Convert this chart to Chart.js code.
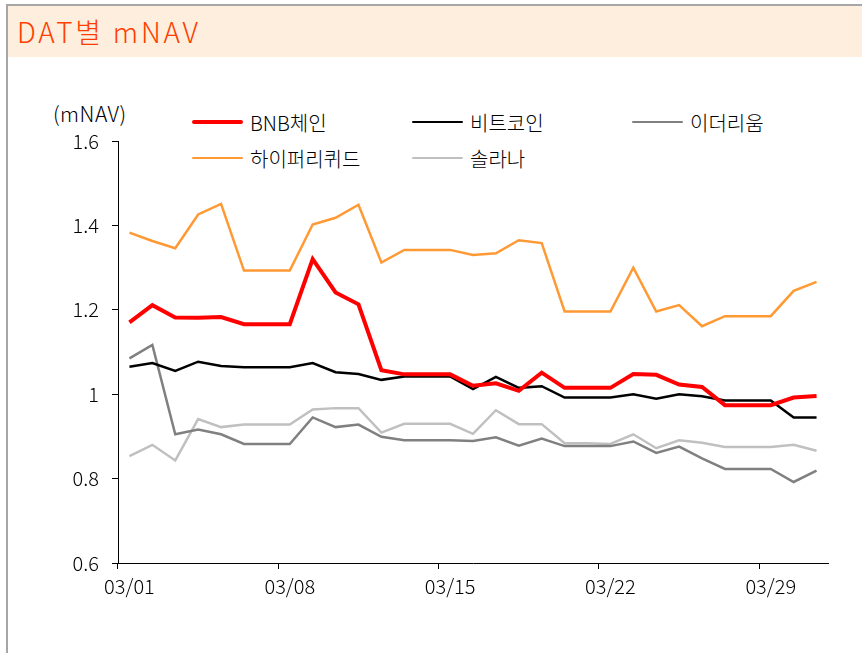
<!DOCTYPE html>
<html>
<head>
<meta charset="utf-8">
<script src="https://cdn.jsdelivr.net/npm/chart.js@4.4.1/dist/chart.umd.min.js"></script>
<style>
  body { margin: 0; width: 862px; height: 653px; overflow: hidden; background: #fff;
         font-family: "Noto Sans CJK KR", "Noto Sans", sans-serif; font-weight: 300; }
  #frame { position: absolute; left: 6px; top: 4px; right: 0; bottom: 0;
           border-left: 2px solid #a6a6a6; border-top: 2px solid #a6a6a6; }
  #band { position: absolute; left: 8px; top: 6px; right: 0; height: 51px; background: #fdeede; }
  #title { position: absolute; left: 17px; top: 14px; font-size: 28px; line-height: 34px;
           color: #ff3d00; letter-spacing: 2.8px; }
  #unit { position: absolute; left: 53px; top: 99px; font-size: 21px; line-height: 28px;
          color: #000; letter-spacing: 0.5px; }
  #legend { position: absolute; left: 192px; top: 108px; display: grid;
            grid-template-columns: 220px 220px 220px; row-gap: 8px; }
  .item { display: flex; align-items: center; height: 28px; font-size: 20px; color: #000; }
  .swatch { width: 51px; margin-right: 7px; border-radius: 2px; }
  #wrap { position: absolute; left: 0; top: 0; width: 862px; height: 653px; }
</style>
</head>
<body>
<div id="frame"></div>
<div id="band"></div>
<div id="title">DAT별 mNAV</div>
<div id="unit">(mNAV)</div>
<div id="legend"></div>
<div id="wrap"><canvas id="chart" width="862" height="653"></canvas></div>
<script>
const dates = ['03/01','03/02','03/03','03/04','03/05','03/06','03/07','03/08','03/09','03/10',
               '03/11','03/12','03/13','03/14','03/15','03/16','03/17','03/18','03/19','03/20',
               '03/21','03/22','03/23','03/24','03/25','03/26','03/27','03/28','03/29','03/30','03/31'];

const bnb  = [1.170,1.211,1.182,1.181,1.183,1.166,1.166,1.166,1.320,1.241,1.213,1.057,1.047,1.047,1.047,1.020,
              1.026,1.008,1.051,1.015,1.015,1.015,1.048,1.046,1.023,1.017,0.974,0.974,0.974,0.992,0.996];
const btc  = [1.065,1.074,1.055,1.077,1.067,1.064,1.064,1.064,1.074,1.052,1.048,1.034,1.042,1.042,1.042,1.012,
              1.041,1.015,1.019,0.992,0.992,0.992,1.000,0.989,1.000,0.995,0.985,0.985,0.985,0.945,0.945];
const eth  = [1.085,1.117,0.905,0.916,0.905,0.882,0.882,0.882,0.945,0.922,0.928,0.899,0.891,0.891,0.891,0.889,
              0.898,0.878,0.895,0.877,0.877,0.877,0.888,0.861,0.876,0.848,0.823,0.823,0.823,0.792,0.819];
const hype = [1.383,1.363,1.346,1.426,1.451,1.293,1.293,1.293,1.402,1.418,1.449,1.312,1.342,1.342,1.342,1.330,
              1.334,1.365,1.358,1.196,1.196,1.196,1.300,1.196,1.211,1.161,1.185,1.185,1.185,1.245,1.266];
const sol  = [0.853,0.880,0.843,0.941,0.922,0.928,0.928,0.928,0.964,0.967,0.967,0.909,0.930,0.930,0.930,0.906,
              0.962,0.929,0.929,0.884,0.884,0.882,0.905,0.872,0.891,0.885,0.875,0.875,0.875,0.880,0.866];

const yTicks = [0.6, 0.8, 1.0, 1.2, 1.4, 1.6];

// legend order: row by row, like the picture
const series = [
    { label: 'BNB체인',   data: bnb,  color: '#ff0000', width: 4 },
    { label: '비트코인',   data: btc,  color: '#000000', width: 2.5 },
    { label: '이더리움',   data: eth,  color: '#808080', width: 2.5 },
    { label: '하이퍼리퀴드', data: hype, color: '#ff9933', width: 2.5 },
    { label: '솔라나',     data: sol,  color: '#c0c0c0', width: 2.5 }
];

const legend = document.getElementById('legend');
series.forEach(s => {
    const item = document.createElement('div');
    item.className = 'item';
    const sw = document.createElement('span');
    sw.className = 'swatch';
    sw.style.height = s.width + 'px';
    sw.style.background = s.color;
    item.appendChild(sw);
    item.appendChild(document.createTextNode(s.label));
    legend.appendChild(item);
});

const font = { family: '"Noto Sans CJK KR", "Noto Sans", sans-serif', size: 20, weight: '300' };

const ctx = document.getElementById('chart').getContext('2d');
new Chart(ctx, {
    type: 'line',
    data: {
        labels: dates,
        datasets: series.map(s => ({
            label: s.label,
            data: s.data,
            borderColor: s.color,
            backgroundColor: s.color,
            borderWidth: s.width,
            pointRadius: 0,
            tension: 0,
            fill: false
        }))
    },
    options: {
        responsive: false,
        animation: false,
        layout: { padding: { left: 48, right: 34, top: 141, bottom: 50 } },
        plugins: {
            legend: { display: false },
            tooltip: { enabled: false }
        },
        scales: {
            x: {
                offset: true,
                grid: {
                    offset: true,
                    drawOnChartArea: false,
                    tickLength: 6,
                    color: c => (c.index % 7 === 0 ? '#000' : 'rgba(0,0,0,0)')
                },
                border: { color: '#000', width: 1 },
                ticks: {
                    autoSkip: false,
                    maxRotation: 0,
                    padding: 5,
                    color: '#000',
                    font: font,
                    callback: function (v, i) { return i % 7 === 0 ? dates[i] : ''; }
                },
                afterFit: scale => { scale.height = 40; }
            },
            y: {
                min: yTicks[0],
                max: yTicks[yTicks.length - 1],
                afterBuildTicks: scale => { scale.ticks = yTicks.map(v => ({ value: v })); },
                grid: { drawOnChartArea: false, tickLength: 6, color: '#000' },
                border: { color: '#000', width: 1 },
                ticks: {
                    padding: 13,
                    color: '#000',
                    font: font,
                    callback: v => String(Math.round(v * 10) / 10)
                },
                afterFit: scale => { scale.width = 70; }
            }
        }
    }
});
</script>
</body>
</html>
